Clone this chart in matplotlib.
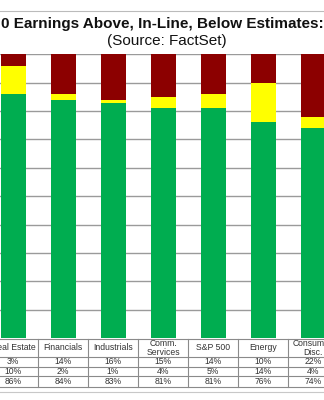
import matplotlib.pyplot as plt

plt.rcParams['font.family'] = ['Liberation Sans', 'DejaVu Sans']

# sectors visible in the crop (left and right ones are cut off)
sectors = ['Real Estate', 'Financials', 'Industrials', 'Comm.\nServices',
           'S&P 500', 'Energy', 'Consumer\nDisc.']
# bar heights (% of companies)
above = [86, 84, 83, 81, 81, 76, 74]
inline = [10, 2, 1, 4, 5, 14, 4]
below = [4, 14, 16, 15, 14, 10, 22]
# numbers printed in the table under the chart
below_txt = ['3%', '14%', '16%', '15%', '14%', '10%', '22%']
inline_txt = ['10%', '2%', '1%', '4%', '5%', '14%', '4%']
above_txt = ['86%', '84%', '83%', '81%', '81%', '76%', '74%']

green = '#00ad50'
yellow = '#ffff00'
red = '#8c0000'

fig = plt.figure(figsize=(3.24, 4.0), dpi=100)
xlim = (-0.26, 6.22)

ax = fig.add_axes([0, 0.155, 1, 0.709])
x = range(len(sectors))
ax.bar(x, above, width=0.5, color=green, zorder=2)
ax.bar(x, inline, width=0.5, bottom=above, color=yellow, zorder=2)
tops = [a + b for a, b in zip(above, inline)]
ax.bar(x, below, width=0.5, bottom=tops, color=red, zorder=2)
ax.set_xlim(*xlim)
ax.set_ylim(0, 100)
ax.set_yticks(range(10, 101, 10))
ax.yaxis.grid(True, color='#9a9a9a', lw=1)
ax.set_axisbelow(True)
ax.set_xticks([])
ax.tick_params(left=False, labelleft=False)
for s in ax.spines.values():
    s.set_visible(False)

# table below the bars, in pixel rows
tab = fig.add_axes([0, 0, 1, 1], zorder=-1)
tab.set_xlim(*xlim)
tab.set_ylim(400, 0)
tab.axis('off')
for y in [339, 356.5, 366.5, 376, 387.3]:
    tab.axhline(y, color='#8a8a8a', lw=0.8)
tab.axhline(391.7, color='#c8c8c8', lw=0.8)
for k in range(-1, len(sectors)):
    tab.plot([k + 0.5, k + 0.5], [339, 387.3], color='#8a8a8a', lw=0.8)
rows = [(361.5, below_txt), (371.2, inline_txt), (381.8, above_txt)]
for i, name in enumerate(sectors):
    tab.text(i, 347.8, name, ha='center', va='center', fontsize=6.2,
             color='#333333', linespacing=0.95)
    for y, vals in rows:
        tab.text(i, y, vals[i], ha='center', va='center', fontsize=6.2,
                 color='#333333')

fig.text(0.5, 1 - 24 / 400, '0 Earnings Above, In-Line, Below Estimates:',
         ha='center', va='center', fontsize=11, fontweight='bold',
         color='#111111')
fig.text(0.515, 1 - 40.5 / 400, '(Source: FactSet)', ha='center',
         va='center', fontsize=11, color='#111111')
fig.add_artist(plt.Line2D([0, 1], [1 - 11 / 400] * 2, color='#bbbbbb', lw=0.8))

fig.savefig('out.png', dpi=100)
